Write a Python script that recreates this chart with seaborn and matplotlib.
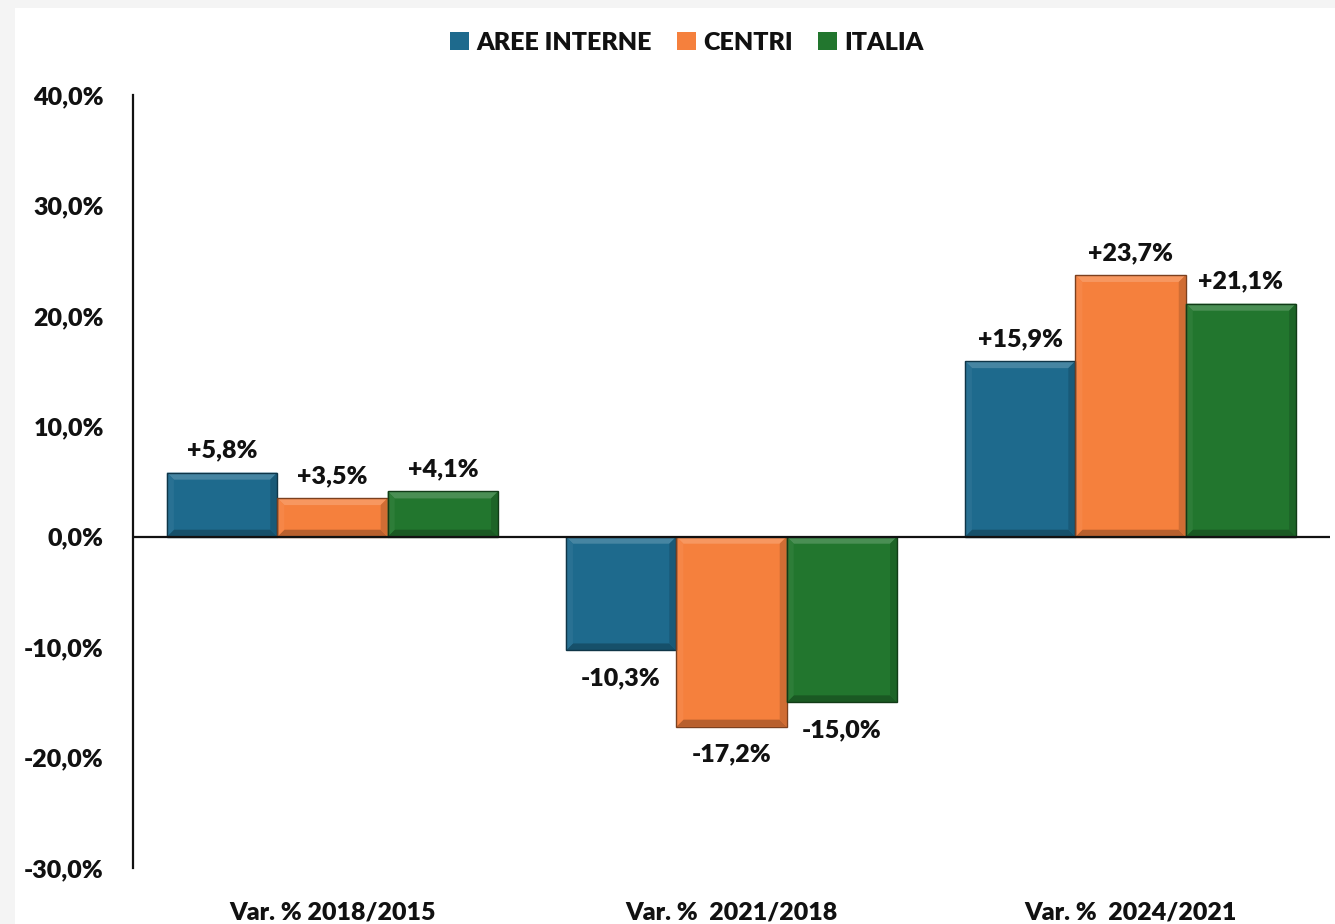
import matplotlib
matplotlib.use("Agg")
import matplotlib.pyplot as plt
from matplotlib.patches import Polygon, Rectangle
import matplotlib.colors as mcolors
import seaborn as sns
import pandas as pd

# Data
categories = ["Var. % 2018/2015", "Var. %  2021/2018", "Var. %  2024/2021"]
series = ["AREE INTERNE", "CENTRI", "ITALIA"]
aree_interne = [5.8, -10.3, 15.9]
centri = [3.5, -17.2, 23.7]
italia = [4.1, -15.0, 21.1]
y_ticks = [-30, -20, -10, 0, 10, 20, 30, 40]

colors = ["#1e6a8d", "#f5803d", "#22762e"]
WEIGHT = "heavy"

rows = []
for name, vals in zip(series, [aree_interne, centri, italia]):
    for cat, v in zip(categories, vals):
        rows.append({"categoria": cat, "serie": name, "valore": v})
df = pd.DataFrame(rows)

sns.set_theme(style="white")
plt.rcParams["font.family"] = ["Lato", "DejaVu Sans"]
plt.rcParams["font.weight"] = WEIGHT

fig = plt.figure(figsize=(13.35, 9.24), dpi=100, facecolor="#f4f4f4")
# white panel
fig.add_artist(Rectangle((15 / 1335, 0), 1, 1 - 8 / 924, transform=fig.transFigure,
                         facecolor="white", edgecolor="none", zorder=-10))
ax = fig.add_axes([0.0996, 0.0606, 0.8967, 0.8366])
ax.set_facecolor("none")

sns.barplot(data=df, x="categoria", y="valore", hue="serie", order=categories,
            hue_order=series, palette=colors, width=0.83, gap=0,
            edgecolor="none", linewidth=0, saturation=1, ax=ax, legend=True)

ax.set_ylim(-30, 40)
ax.set_xlim(-0.5, 2.5)
ax.set_yticks(y_ticks)
ax.set_yticklabels([f"{t:.1f}%".replace(".", ",") for t in y_ticks])
ax.set_xlabel("")
ax.set_ylabel("")
ax.tick_params(axis="y", labelsize=18, length=0, pad=21)
ax.tick_params(axis="x", labelsize=18, length=0, pad=24)
for lab in ax.get_xticklabels() + ax.get_yticklabels():
    lab.set_fontweight(WEIGHT)
    lab.set_color("#111111")

for side in ["top", "right", "bottom"]:
    ax.spines[side].set_visible(False)
ax.spines["left"].set_linewidth(1.6)
ax.spines["left"].set_color("#111111")
ax.axhline(0, color="#111111", lw=1.6, zorder=5)

fig.canvas.draw()


def shade(c, f):
    r, g, b = mcolors.to_rgb(c)
    if f >= 1:
        return (r + (1 - r) * (f - 1), g + (1 - g) * (f - 1), b + (1 - b) * (f - 1))
    return (r * f, g * f, b * f)


# bevel decoration and value labels
bev = 7  # pixels
inv = ax.transData.inverted()
for cont, col, vals in zip(ax.containers, colors, [aree_interne, centri, italia]):
    for bar, v in zip(cont, vals):
        x0, y0 = bar.get_x(), bar.get_y()
        x1, y1 = x0 + bar.get_width(), y0 + bar.get_height()
        ylo, yhi = min(y0, y1), max(y0, y1)
        (px0, pylo), (px1, pyhi) = ax.transData.transform([(x0, ylo), (x1, yhi)])
        corners = inv.transform([(px0 + bev, pylo + bev), (px1 - bev, pyhi - bev)])
        ix0, iylo = corners[0]
        ix1, iyhi = corners[1]
        faces = [
            ([(x0, yhi), (x1, yhi), (ix1, iyhi), (ix0, iyhi)], shade(col, 1.18)),
            ([(x0, ylo), (x1, ylo), (ix1, iylo), (ix0, iylo)], shade(col, 0.75)),
            ([(x0, ylo), (x0, yhi), (ix0, iyhi), (ix0, iylo)], shade(col, 1.05)),
            ([(x1, ylo), (x1, yhi), (ix1, iyhi), (ix1, iylo)], shade(col, 0.85)),
        ]
        for pts, fc in faces:
            ax.add_patch(Polygon(pts, closed=True, facecolor=fc, edgecolor="none", zorder=3))
        ax.add_patch(Rectangle((x0, ylo), x1 - x0, yhi - ylo, facecolor="none",
                               edgecolor=shade(col, 0.5), lw=1.0, zorder=4))
        txt = f"{v:+.1f}%".replace(".", ",")
        if v >= 0:
            ax.annotate(txt, (x0 + (x1 - x0) / 2, yhi), xytext=(0, 8),
                        textcoords="offset points", ha="center", va="bottom",
                        fontsize=18, fontweight=WEIGHT, color="#111111")
        else:
            ax.annotate(txt, (x0 + (x1 - x0) / 2, ylo), xytext=(0, -12),
                        textcoords="offset points", ha="center", va="top",
                        fontsize=18, fontweight=WEIGHT, color="#111111")

leg = ax.legend(loc="upper center", ncol=3, frameon=False,
                fontsize=18, handlelength=0.75, handleheight=0.75,
                handletextpad=0.3, columnspacing=1.0)
leg.set_bbox_to_anchor((0.5145, 0.99), transform=fig.transFigure)
for t in leg.get_texts():
    t.set_fontweight(WEIGHT)
    t.set_color("#111111")

fig.savefig("out.png", dpi=100, facecolor=fig.get_facecolor())
